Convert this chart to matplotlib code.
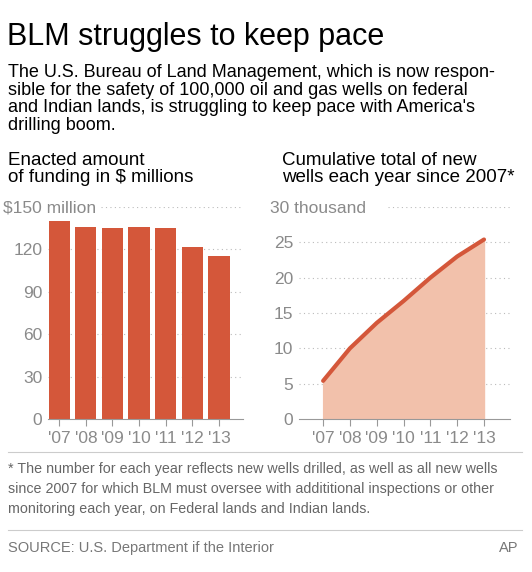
import matplotlib.pyplot as plt

years = ["'07", "'08", "'09", "'10", "'11", "'12", "'13"]
funding = [140, 136, 135, 136, 135, 122, 115]
wells = [5.4, 10.0, 13.6, 16.7, 20.0, 23.0, 25.4]
fund_ticks = [0, 30, 60, 90, 120, 150]
well_ticks = [0, 5, 10, 15, 20, 25, 30]

plt.rcParams['font.family'] = ['Liberation Sans', 'DejaVu Sans']
W, H = 532, 572
fig = plt.figure(figsize=(W / 100, H / 100), dpi=100)
grey = '#8a8a8a'
orange = '#d4573a'

def box(x0, y0, x1, y1):
    return [x0 / W, 1 - y1 / H, (x1 - x0) / W, (y1 - y0) / H]

fig.text(7 / W, 1 - 37 / H, 'BLM struggles to keep pace', fontsize=22, va='center')
fig.text(8 / W, 1 - 99 / H,
         'The U.S. Bureau of Land Management, which is now respon-\n'
         'sible for the safety of 100,000 oil and gas wells on federal\n'
         'and Indian lands, is struggling to keep pace with America\'s\n'
         'drilling boom.', fontsize=13, va='center', linespacing=1.05)
fig.text(8 / W, 1 - 169 / H, 'Enacted amount\nof funding in $ millions', fontsize=13.5,
         va='center', linespacing=1.05)
fig.text(282 / W, 1 - 169 / H, 'Cumulative total of new\nwells each year since 2007*', fontsize=13.5,
         va='center', linespacing=1.05)

def style(ax, ticks, top_label):
    for s in ['top', 'right', 'left']:
        ax.spines[s].set_visible(False)
    ax.spines['bottom'].set_color('#999999')
    ax.set_yticks(ticks)
    labels = [str(t) for t in ticks]
    labels[-1] = top_label
    ax.set_yticklabels(labels, color=grey, fontsize=12.5)
    ax.tick_params(axis='y', length=0, pad=4)
    ax.tick_params(axis='x', colors=grey, labelsize=12.5, length=5, color='#999999')
    for t in ticks[1:-1]:
        ax.axhline(t, color='#bbbbbb', lw=0.8, ls=(0, (1, 3)), zorder=0)

ax1 = fig.add_axes(box(48, 207, 243, 419))
x = range(len(years))
ax1.bar(x, funding, width=0.8, color=orange, zorder=2)
ax1.set_xlim(-0.42, 6.9)
ax1.set_ylim(0, 150)
ax1.set_xticks(list(x))
ax1.set_xticklabels(years)
style(ax1, fund_ticks, '$150 million')
lab = ax1.get_yticklabels()[-1]
lab.set_horizontalalignment('left')
lab.set_x(-0.2)
ax1.axhline(150, xmin=0.27, color='#bbbbbb', lw=0.8, ls=(0, (1, 3)))

ax2 = fig.add_axes(box(299, 207, 510, 419))
ax2.fill_between(x, wells, color='#f2c1ab', zorder=1)
ax2.plot(x, wells, color=orange, lw=3, solid_capstyle='round', zorder=3)
ax2.set_xlim(-0.9, 6.97)
ax2.set_ylim(0, 30)
ax2.set_xticks(list(x))
ax2.set_xticklabels(years)
style(ax2, well_ticks, '30 thousand')
lab = ax2.get_yticklabels()[-1]
lab.set_horizontalalignment('left')
lab.set_x(-0.11)
ax2.axhline(30, xmin=0.42, color='#bbbbbb', lw=0.8, ls=(0, (1, 3)))

fig.add_artist(plt.Line2D([8 / W, 522 / W], [1 - 452 / H] * 2, color='#cccccc', lw=0.8))
fig.text(8 / W, 1 - 489 / H,
         '* The number for each year reflects new wells drilled, as well as all new wells\n'
         'since 2007 for which BLM must oversee with addititional inspections or other\n'
         'monitoring each year, on Federal lands and Indian lands.',
         fontsize=10.3, color='#666666', va='center', linespacing=1.55)
fig.add_artist(plt.Line2D([8 / W, 522 / W], [1 - 530 / H] * 2, color='#cccccc', lw=0.8))
fig.text(8 / W, 1 - 548 / H, 'SOURCE: U.S. Department if the Interior', fontsize=10.5,
         color='#777777', va='center')
fig.text(518 / W, 1 - 548 / H, 'AP', fontsize=10.5, color='#777777', va='center', ha='right')

fig.savefig('out.png', dpi=100)
